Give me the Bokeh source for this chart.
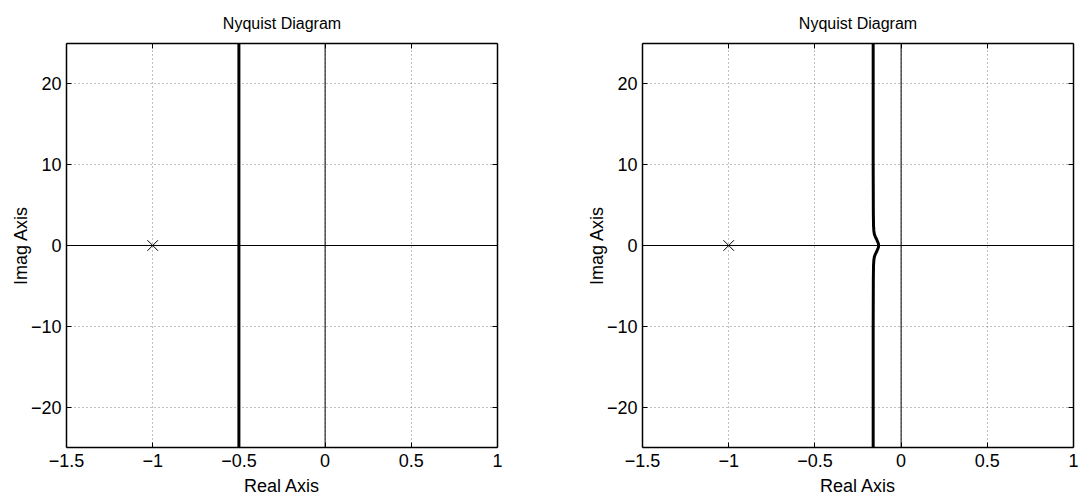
from bokeh.plotting import figure
from bokeh.layouts import row
from bokeh.models import LinearAxis, FixedTicker, Span, Range1d
from bokeh.embed import file_html
from bokeh.resources import INLINE

# ---- data ----
x_ticks = [-1.5, -1, -0.5, 0, 0.5, 1]
x_labels = ["−1.5", "−1", "−0.5", "0", "0.5", "1"]
y_ticks = [-20, -10, 0, 10, 20]
y_labels = ["−20", "−10", "0", "10", "20"]
x_range = [-1.5, 1.0]
y_range = [-25.0, 25.0]

left_re = [-0.5, -0.5, -0.5]
left_im = [-30.0, 0.0, 30.0]

right_re = [-0.162, -0.162, -0.161, -0.160, -0.158, -0.155, -0.150, -0.143,
            -0.137, -0.132, -0.130, -0.132, -0.137, -0.143, -0.150, -0.155,
            -0.158, -0.160, -0.161, -0.162, -0.162]
right_im = [30.0, 10.0, 4.0, 2.5, 1.8, 1.4, 1.1, 0.8, 0.5, 0.25, 0.0,
            -0.25, -0.5, -0.8, -1.1, -1.4, -1.8, -2.5, -4.0, -10.0, -30.0]

crit_re = [-1.0]
crit_im = [0.0]

title_text = "Nyquist Diagram"
xlabel = "Real Axis"
ylabel = "Imag Axis"

FONT = "Liberation Sans"


def make_fig(re, im, width, border_left, border_right):
    p = figure(width=width, height=504, output_backend="svg", toolbar_location=None,
               x_range=Range1d(*x_range), y_range=Range1d(*y_range),
               min_border_left=border_left, min_border_right=border_right,
               min_border_top=43, min_border_bottom=57,
               x_axis_label=xlabel, y_axis_label=ylabel)
    p.title.text = title_text
    p.title.align = "center"
    p.title.text_font = FONT
    p.title.text_font_size = "16px"
    p.title.text_font_style = "normal"
    p.title.text_color = "black"
    p.title.standoff = 24
    p.outline_line_color = None
    p.background_fill_color = "white"
    p.border_fill_color = "white"

    for ax, ticks, labels in ((p.xaxis[0], x_ticks, x_labels), (p.yaxis[0], y_ticks, y_labels)):
        ax.ticker = FixedTicker(ticks=ticks)
        ax.major_label_overrides = {t: l for t, l in zip(ticks, labels)}
        ax.major_label_text_font = FONT
        ax.major_label_text_font_size = "18px"
        ax.axis_label_text_font = FONT
        ax.axis_label_text_font_size = "18px"
        ax.axis_label_text_font_style = "normal"
        ax.major_tick_in = 5
        ax.major_tick_out = 0
        ax.minor_tick_in = 0
        ax.minor_tick_out = 0
        ax.axis_line_width = 1.5
        ax.axis_line_color = "black"
        ax.major_tick_line_color = "black"
        ax.major_label_text_color = "black"
        ax.axis_label_text_color = "black"
    p.xaxis.major_label_standoff = 6
    p.xaxis.axis_label_standoff = 6
    p.yaxis.major_label_standoff = 5
    p.yaxis.axis_label_standoff = -3

    for loc, ticks in (("above", x_ticks), ("right", y_ticks)):
        ax = LinearAxis(ticker=FixedTicker(ticks=ticks))
        ax.major_label_text_font_size = "0px"
        ax.major_label_standoff = 0
        ax.major_tick_in = 5
        ax.major_tick_out = 0
        ax.minor_tick_in = 0
        ax.minor_tick_out = 0
        ax.axis_line_width = 1.5
        ax.axis_line_color = "black"
        p.add_layout(ax, loc)

    p.xgrid.ticker = FixedTicker(ticks=x_ticks)
    p.ygrid.ticker = FixedTicker(ticks=y_ticks)
    for g in (p.xgrid[0], p.ygrid[0]):
        g.grid_line_color = "#7f7f7f"
        g.grid_line_dash = "1 3"
        g.grid_line_width = 1

    p.add_layout(Span(location=0, dimension="width", line_color="black", line_width=1))
    p.add_layout(Span(location=0, dimension="height", line_color="black", line_width=1))

    p.line(re, im, line_color="black", line_width=3)
    p.scatter(crit_re, crit_im, marker="x", size=15, line_color="black", line_width=1)
    return p


p1 = make_fig(left_re, left_im, 540, 66, 43)
p2 = make_fig(right_re, right_im, 541, 102, 8)
layout = row(p1, p2, spacing=0)

open("out.html", "w").write(file_html(layout, INLINE))
